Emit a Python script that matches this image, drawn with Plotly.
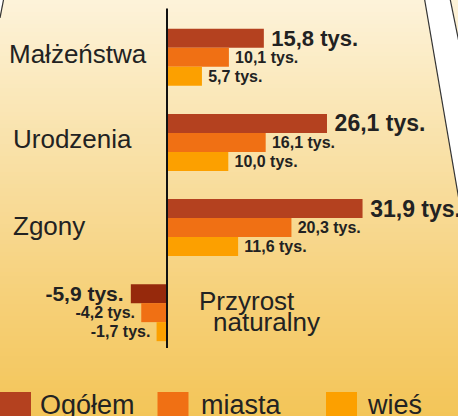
import plotly.graph_objects as go

# ---------------- data ----------------
categories = ["Małżeństwa", "Urodzenia", "Zgony", "Przyrost naturalny"]
series_names = ["Ogółem", "miasta", "wieś"]
ogolem = [15.8, 26.1, 31.9, -5.9]
miasta = [10.1, 16.1, 20.3, -4.2]
wies = [5.7, 10.0, 11.6, -1.7]

# ---------------- style ----------------
W, H = 458, 416
AXIS_PX = 167.0
SCALE = 6.13  # px per unit
XR = [-AXIS_PX / SCALE, (W - AXIS_PX) / SCALE]
Y0, DY = 57.35, 85.1
YR = [(H - Y0) / DY, -Y0 / DY]

BOLD = "Liberation Sans, Arial, sans-serif"
SANS = "Liberation Sans, Arial, sans-serif"
TXT = "#222222"

def lab(v):
    s = f"{v:.1f}".replace(".", ",") + " tys."
    return ("\u2009" + s) if v >= 0 else (s + "\u2009")

def px(x, y):
    return x / W, 1 - y / H

fig = go.Figure()
series = [
    (series_names[0], ogolem, ["#B4411F", "#B4411F", "#B4411F", "#96290C"], [22, 23, 23, 21]),
    (series_names[1], miasta, "#F07014", 16),
    (series_names[2], wies, "#FCA000", 16),
]
for name, vals, col, fs in series:
    fig.add_trace(go.Bar(
        y=categories, x=vals, name=name, orientation="h",
        marker=dict(color=col, line=dict(width=0)),
        text=[lab(v) for v in vals], textposition="outside",
        textfont=dict(family=BOLD, size=fs, color=TXT, weight="bold"),
        constraintext="none", cliponaxis=False, showlegend=False,
        hoverinfo="skip",
    ))

shapes = []
# background gradient
stops = [(0, (253, 243, 218)), (100, (250, 231, 184)), (200, (248, 219, 152)),
         (300, (246, 208, 120)), (416, (243, 197, 88))]
def col_at(y):
    for (y0, c0), (y1, c1) in zip(stops[:-1], stops[1:]):
        if y <= y1:
            t = (y - y0) / (y1 - y0)
            return tuple(round(a + (b - a) * t) for a, b in zip(c0, c1))
    return stops[-1][1]
step = 4
for y in range(0, H, step):
    c = col_at(y + step / 2)
    x0, y0p = px(0, y)
    x1, y1p = px(W, y + step + 0.5)
    shapes.append(dict(type="rect", xref="paper", yref="paper", x0=x0, x1=x1,
                       y0=y1p, y1=y0p, fillcolor=f"rgb{c}", line=dict(width=0),
                       layer="below"))

def path(pts, close=True):
    s = ""
    for i, (x, y) in enumerate(pts):
        xx, yy = px(x, y)
        s += ("M" if i == 0 else "L") + f"{xx:.5f},{yy:.5f} "
    return s + ("Z" if close else "")

# white page-edge shapes
shapes.append(dict(type="path", xref="paper", yref="paper",
                   path=path([(424.5, -1), (450.3, -1), (459, 41), (459, 200)]),
                   fillcolor="white", line=dict(width=0), layer="below"))
shapes.append(dict(type="path", xref="paper", yref="paper",
                   path=path([(-1, -1), (3.5, -1), (-1, 18)]),
                   fillcolor="white", line=dict(width=0), layer="below"))
for pts in [[(424.7, 0), (459, 200)], [(450.3, 0), (458.5, 40)], [(3.5, 0), (0, 18)]]:
    shapes.append(dict(type="path", xref="paper", yref="paper",
                       path=path(pts, close=False),
                       line=dict(color="#333333", width=1.2), layer="below"))

# vertical axis line
shapes.append(dict(type="line", xref="x", yref="paper", x0=0, x1=0,
                   y0=px(0, 348)[1], y1=px(0, 8.5)[1],
                   line=dict(color="#111111", width=2)))

# legend squares
legend_cols = ["#B4411F", "#F07014", "#FCA000"]
legend_sq_x = [0, 157.5, 326]
for c, x in zip(legend_cols, legend_sq_x):
    a, b = px(x, 392)
    a2, b2 = px(x + 31, 417)
    shapes.append(dict(type="rect", xref="paper", yref="paper", x0=a, x1=a2,
                       y0=b2, y1=b, fillcolor=c, line=dict(width=0)))

annotations = []
legend_tx = [38, 199, 365]
for name, x in zip(series_names, legend_tx):
    a, b = px(x, 405)
    annotations.append(dict(xref="paper", yref="paper", x=a, y=b, text=name,
                            showarrow=False, xanchor="left", yanchor="middle",
                            font=dict(family=SANS, size=27, color=TXT)))

# category labels (left of axis)
cat_x = [7, 11, 11]
cat_shift = [3, 3, 2]
for c, x, sh in zip(categories[:3], cat_x, cat_shift):
    annotations.append(dict(xref="paper", yref="y", x=x / W, y=c, text=c,
                            showarrow=False, xanchor="left", yanchor="middle",
                            yshift=sh,
                            font=dict(family=SANS, size=26, color=TXT)))
# Przyrost naturalny (right of axis, two lines)
w1, w2 = categories[3].split(" ")
for word, x, sh in [(w1, 197, 12), (w2, 211, -9)]:
    annotations.append(dict(xref="paper", yref="y", x=x / W, y=categories[3],
                            text=word, showarrow=False, xanchor="left",
                            yanchor="middle", yshift=sh,
                            font=dict(family=SANS, size=26, color=TXT)))

fig.update_layout(
    width=W, height=H, margin=dict(l=0, r=0, t=0, b=0),
    paper_bgcolor="rgb(253,243,218)", plot_bgcolor="rgba(0,0,0,0)",
    barmode="group", bargap=0.33, bargroupgap=0,
    xaxis=dict(range=XR, visible=False, fixedrange=True),
    yaxis=dict(range=YR, visible=False, type="category",
               categoryorder="array", categoryarray=categories, fixedrange=True),
    shapes=shapes, annotations=annotations, showlegend=False,
)
fig.write_html("out.html", config={"displayModeBar": False, "staticPlot": True},
               post_script="document.body.style.margin='0';document.body.style.overflow='hidden';")
